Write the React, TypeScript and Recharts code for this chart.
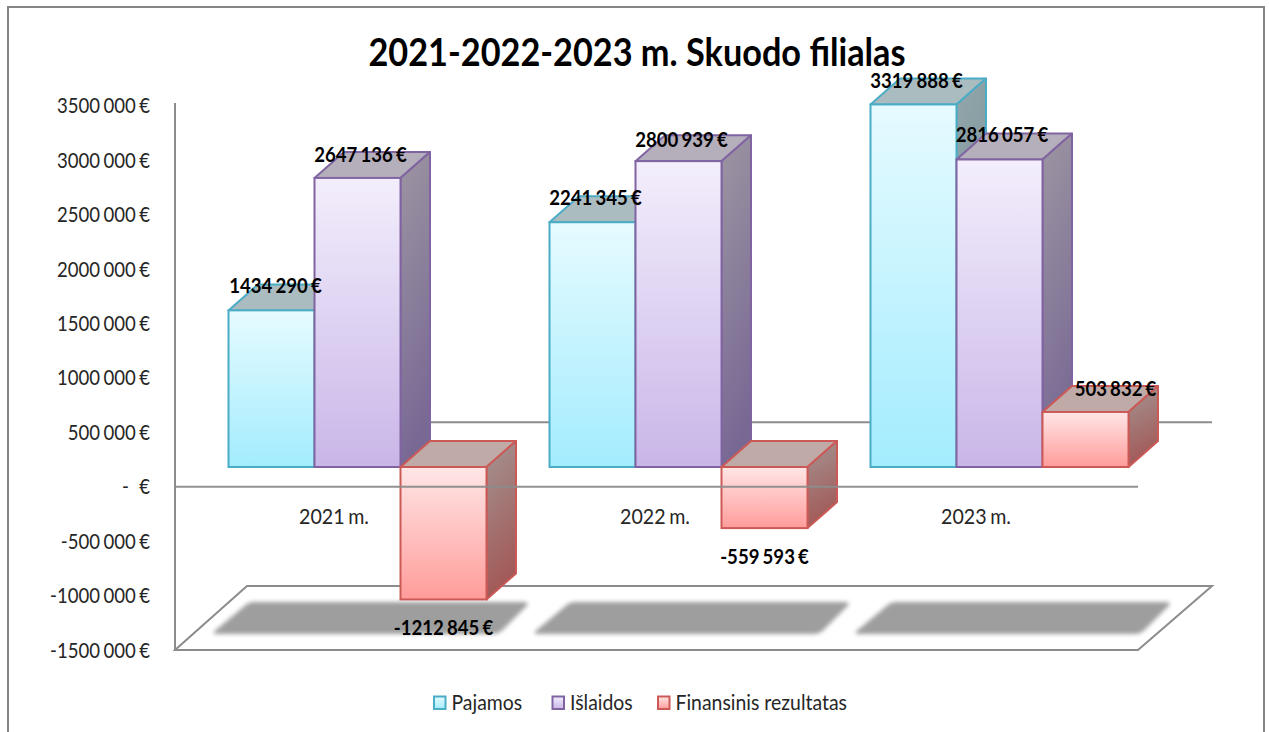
import React from 'react';
import { BarChart, Bar, XAxis, YAxis, Legend, ReferenceArea, ReferenceLine } from 'recharts';

const years = ['2021 m.', '2022 m.', '2023 m.'];
const pajamos = [1434290, 2241345, 3319888];
const islaidos = [2647136, 2800939, 2816057];
const rezultatas = [-1212845, -559593, 503832];
const yTicks = [-1500000, -1000000, -500000, 0, 500000, 1000000, 1500000, 2000000, 2500000, 3000000, 3500000];

const data = years.map((year, i) => ({
  year,
  Pajamos: pajamos[i],
  'Išlaidos': islaidos[i],
  'Finansinis rezultatas': rezultatas[i],
}));

const FONT = 'Lato, sans-serif';
const DX = 29.5;
const DY = 26;
const PLOT_W_FRONT = 963;
const LINE = '#8c8c8c';

const styles: Record<string, any> = {
  Pajamos: { id: 'p', stroke: '#4bacc6', f: ['#e6fbff', '#a3ecfe'], top: '#abbcc1', s: ['#93a6aa', '#6f8d96'] },
  'Išlaidos': { id: 'i', stroke: '#8064a2', f: ['#f3eefc', '#c9b6e8'], top: '#b5aebb', s: ['#9d96a2', '#786894'] },
  'Finansinis rezultatas': { id: 'r', stroke: '#cb5a57', f: ['#ffe6e6', '#ff9c9a'], top: '#bfaaa8', s: ['#a39492', '#a25856'] },
};

const labelOffsets: Record<string, number[][]> = {
  Pajamos: [[4, -24], [3, -24], [3, -23]],
  'Išlaidos': [[3, -23], [3, -21], [2.5, -24]],
  'Finansinis rezultatas': [[0, 29], [0, 29], [30, -23]],
};

function fmt(v: number) {
  if (v === 0) return '-   €';
  const a = Math.abs(v);
  const head = Math.floor(a / 1000);
  const tail = String(a % 1000).padStart(3, '0');
  return `${v < 0 ? '-' : ''}${head} ${tail} €`;
}

function SText({ x, y, children, anchor = 'middle', weight = 400, size = 21, sx = 0.91, fill = '#262626', ws = -1.5 }: any) {
  return (
    <text
      transform={`translate(${x},${y}) scale(${sx},1)`}
      textAnchor={anchor}
      fontFamily={FONT}
      fontWeight={weight}
      fontSize={size}
      fill={fill}
      style={{ whiteSpace: 'pre', wordSpacing: ws }}
    >
      {children}
    </text>
  );
}

function Box3D(props: any) {
  const { x, y, width, height, dataKey, background } = props;
  const st = styles[dataKey];
  const top = Math.min(y, y + height);
  const h = Math.abs(height);
  const sw = 2;
  const shadow = dataKey === 'Pajamos' && background;
  const fb = shadow ? background.y + background.height : 0;
  return (
    <g>
      {shadow ? (
        <path
          d={`M${x - 14} ${fb - 16} L${x + 264} ${fb - 16} Q${x + 270} ${fb - 16} ${x + 274} ${fb - 20} L${x + 298} ${fb - 44} Q${x + 301} ${fb - 48} ${x + 296} ${fb - 48} L${x + 26} ${fb - 48} Q${x + 20} ${fb - 48} ${x + 16} ${fb - 44} L${x - 15} ${fb - 18} Z`}
          fill="#9e9e9e"
          filter="url(#soft)"
        />
      ) : null}
      <path
        d={`M${x} ${top} L${x + DX} ${top - DY} L${x + width + DX} ${top - DY} L${x + width} ${top} Z`}
        fill={st.top}
        stroke={st.stroke}
        strokeWidth={sw}
        strokeLinejoin="round"
      />
      <path
        d={`M${x + width} ${top} L${x + width + DX} ${top - DY} L${x + width + DX} ${top + h - DY} L${x + width} ${top + h} Z`}
        fill={`url(#side-${st.id})`}
        stroke={st.stroke}
        strokeWidth={sw}
        strokeLinejoin="round"
      />
      <rect x={x} y={top} width={width} height={h} fill={`url(#front-${st.id})`} stroke={st.stroke} strokeWidth={sw} />
    </g>
  );
}

function Planes(props: any) {
  const { x, y, height } = props;
  const fy = y + height;
  const xr = x + PLOT_W_FRONT;
  return (
    <g fill="none" stroke={LINE} strokeWidth={2}>
      <path d={`M${x} ${fy} L${xr} ${fy} L${xr + 74} ${fy - 64} L${x + 72} ${fy - 64} Z`} fill="#fff" />
      <path d={`M${x + 72} ${y - 64.5} L${xr + 74} ${y - 64.5}`} />
    </g>
  );
}

const ZeroLine = (props: any) => {
  const { x1, y1 } = props;
  return <line x1={x1} y1={y1} x2={x1 + PLOT_W_FRONT} y2={y1} stroke={LINE} strokeOpacity={0.95} strokeWidth={2} />;
};

const YTick = ({ x, y, payload }: any) => (
  <SText x={x} y={y + 7.5} anchor="end" sx={0.885}>{fmt(payload.value)}</SText>
);

const XTick = ({ x, y, payload }: any) => (
  <SText x={x - 1.5} y={y - 134} sx={0.935}>{payload.value}</SText>
);

const makeLabel = (key: string) => (p: any) => {
  const { x, y, width, height, index, value } = p;
  const [ox, oy] = labelOffsets[key][index];
  const anchorY = value < 0 ? Math.max(y, y + height) : Math.min(y, y + height);
  return <SText x={x + width / 2 + ox} y={anchorY + oy + 7} weight={700} size={20} sx={0.93} fill="#000">{fmt(value)}</SText>;
};

const legendPos: Record<string, number> = { Pajamos: 434, 'Išlaidos': 552.5, 'Finansinis rezultatas': 658 };

const LegendContent = ({ payload }: any) => (
  <svg width={1269} height={40} style={{ display: 'block' }}>
    {(payload || []).map((e: any) => {
      const st = styles[e.dataKey];
      const lx = legendPos[e.dataKey];
      return (
        <g key={e.dataKey}>
          <rect x={lx} y={15.5} width={11.5} height={12.5} fill={`url(#front-${st.id})`} stroke={st.stroke} strokeWidth={2} />
          <SText x={lx + 17.5} y={29} anchor="start" ws={0} sx={0.925}>{e.value}</SText>
        </g>
      );
    })}
  </svg>
);

export default function App() {
  return (
    <div style={{ position: 'absolute', left: 0, top: 0, width: 1269, height: 732, background: '#fff', overflow: 'hidden' }}>
      <div style={{ position: 'absolute', left: 7, top: 5.5, width: 1258, height: 740, border: '2px solid #868686', boxSizing: 'border-box' }} />
      <BarChart
        width={1269}
        height={732}
        data={data}
        margin={{ top: 103, right: 57, bottom: 41, left: 45 }}
        barGap={0}
        barSize={86}
        style={{ position: 'absolute', left: 0, top: 0 }}
      >
        <defs>
          {Object.values(styles).map((st: any) => (
            <React.Fragment key={st.id}>
              <linearGradient id={`front-${st.id}`} x1="0" y1="0" x2="0" y2="1">
                <stop offset="0" stopColor={st.f[0]} />
                <stop offset="1" stopColor={st.f[1]} />
              </linearGradient>
              <linearGradient id={`side-${st.id}`} x1="0" y1="0" x2="0.2" y2="1">
                <stop offset="0" stopColor={st.s[0]} />
                <stop offset="1" stopColor={st.s[1]} />
              </linearGradient>
            </React.Fragment>
          ))}
          <filter id="soft" x="-5%" y="-30%" width="110%" height="160%">
            <feGaussianBlur stdDeviation="2.2" />
          </filter>
        </defs>
        <text
          transform={`translate(637,66) scale(0.879,1)`}
          textAnchor="middle"
          fontFamily={FONT}
          fontWeight={700}
          fontSize={39}
          fill="#000"
        >
          2021-2022-2023 m. Skuodo filialas
        </text>

        <XAxis
          xAxisId="front"
          dataKey="year"
          height={1}
          padding={{ left: 0, right: 74 }}
          axisLine={false}
          tickLine={false}
          tick={<XTick />}
          interval={0}
        />
        <XAxis xAxisId="bars" dataKey="year" hide height={0} padding={{ left: 21.5, right: 52.5 }} />
        <YAxis
          yAxisId="front"
          width={130}
          domain={[-1500000, 3525000]}
          allowDataOverflow
          ticks={yTicks}
          interval={0}
          tickSize={0}
          tickMargin={25}
          tick={<YTick />}
          axisLine={{ stroke: LINE, strokeWidth: 2 }}
          tickLine={false}
        />
        <YAxis yAxisId="bars" hide width={0} domain={[-1675824, 3333333]} />

        <ReferenceArea xAxisId="front" yAxisId="front" y1={-1500000} y2={0} shape={<Planes />} ifOverflow="visible" />

        {Object.keys(styles).map((key) => (
          <Bar
            key={key}
            xAxisId="bars"
            yAxisId="bars"
            dataKey={key}
            name={key}
            isAnimationActive={false}
            shape={(p: any) => <Box3D {...p} dataKey={key} />}
            label={makeLabel(key)}
          />
        ))}

        <ReferenceLine xAxisId="front" yAxisId="front" y={0} shape={<ZeroLine />} ifOverflow="visible" />

        <Legend
          verticalAlign="bottom"
          content={<LegendContent />}
          wrapperStyle={{ left: 0, top: 681, width: 1269, height: 40, bottom: 'auto' }}
        />
      </BarChart>
    </div>
  );
}
